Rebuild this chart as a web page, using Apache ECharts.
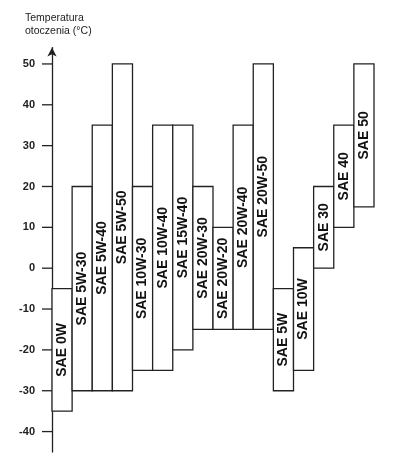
<!DOCTYPE html>
<html>
<head>
<meta charset="utf-8">
<script src="https://cdn.jsdelivr.net/npm/echarts@6/dist/echarts.min.js"></script>
<style>
  html, body { margin: 0; padding: 0; background: #fff; }
  #chart { width: 420px; height: 468px; }
</style>
</head>
<body>
<div id="chart"></div>
<script>
// oil grades and their ambient temperature ranges (°C)
const categories = [
  "SAE 0W", "SAE 5W-30", "SAE 5W-40", "SAE 5W-50", "SAE 10W-30",
  "SAE 10W-40", "SAE 15W-40", "SAE 20W-30", "SAE 20W-20", "SAE 20W-40",
  "SAE 20W-50", "SAE 5W", "SAE 10W", "SAE 30", "SAE 40", "SAE 50",
];
const lowTemps = [-35, -30, -30, -30, -25, -25, -20, -15, -15, -15, -15, -30, -25, 0, 10, 15];
const highTemps = [-5, 20, 35, 50, 20, 35, 35, 20, 10, 35, 50, -5, 5, 20, 35, 50];
const tickValues = [-40, -30, -20, -10, 0, 10, 20, 30, 40, 50];

const chart = echarts.init(document.getElementById("chart"));

const lineColor = "#222";
const fontFamily = '"Liberation Sans", Arial, sans-serif';
const tickLength = 10;

const option = {
  animation: false,
  backgroundColor: "#fff",
  title: {
    text: "Temperatura\notoczenia (°C)",
    left: 20,
    top: 7,
    textStyle: {
      fontFamily: fontFamily,
      fontSize: 10.5,
      fontWeight: "normal",
      lineHeight: 13,
      color: lineColor,
    },
  },
  grid: {
    left: 52,
    right: 46,
    top: 47.6,
    bottom: 16,
  },
  xAxis: {
    type: "category",
    data: categories,
    show: false,
  },
  yAxis: {
    type: "value",
    min: -45,
    max: 54,
    axisLine: {
      show: true,
      symbol: ["none", "arrow"],
      symbolSize: [7, 9],
      lineStyle: { color: lineColor, width: 1.3 },
    },
    axisTick: { show: false },
    axisLabel: {
      customValues: tickValues,
      margin: 17,
      fontFamily: fontFamily,
      fontSize: 11,
      fontWeight: "bold",
      color: lineColor,
    },
    splitLine: { show: false },
  },
  series: [
    {
      type: "custom",
      encode: { x: 0, y: [1, 2] },
      data: categories.map((c, i) => [i, lowTemps[i], highTemps[i]]),
      renderItem: function (params, api) {
        const idx = api.value(0);
        const lo = api.coord([idx, api.value(1)]);
        const hi = api.coord([idx, api.value(2)]);
        const w = api.size([1, 0])[0];
        return {
          type: "group",
          children: [
            {
              type: "rect",
              shape: { x: lo[0] - w / 2, y: hi[1], width: w, height: lo[1] - hi[1] },
              style: { fill: "#fff", stroke: lineColor, lineWidth: 1.3 },
            },
            {
              type: "text",
              x: lo[0],
              y: (lo[1] + hi[1]) / 2,
              rotation: Math.PI / 2,
              style: {
                text: categories[idx],
                align: "center",
                verticalAlign: "middle",
                fontFamily: fontFamily,
                fontSize: 14,
                fontWeight: "bold",
                fill: "#111",
              },
            },
          ],
        };
      },
    },
  ],
};

chart.setOption(option);

// tick marks only at the labelled values, placed through the axis scale
const axisX =
  chart.convertToPixel({ xAxisIndex: 0, yAxisIndex: 0 }, [0, 0])[0] -
  (chart.convertToPixel({ xAxisIndex: 0, yAxisIndex: 0 }, [1, 0])[0] -
    chart.convertToPixel({ xAxisIndex: 0, yAxisIndex: 0 }, [0, 0])[0]) / 2;

chart.setOption({
  graphic: tickValues.map((v) => {
    const y = chart.convertToPixel({ xAxisIndex: 0, yAxisIndex: 0 }, [0, v])[1];
    return {
      type: "line",
      silent: true,
      z: 100,
      shape: { x1: axisX - tickLength, y1: y, x2: axisX, y2: y },
      style: { stroke: lineColor, lineWidth: 1.3 },
    };
  }),
});
</script>
</body>
</html>
